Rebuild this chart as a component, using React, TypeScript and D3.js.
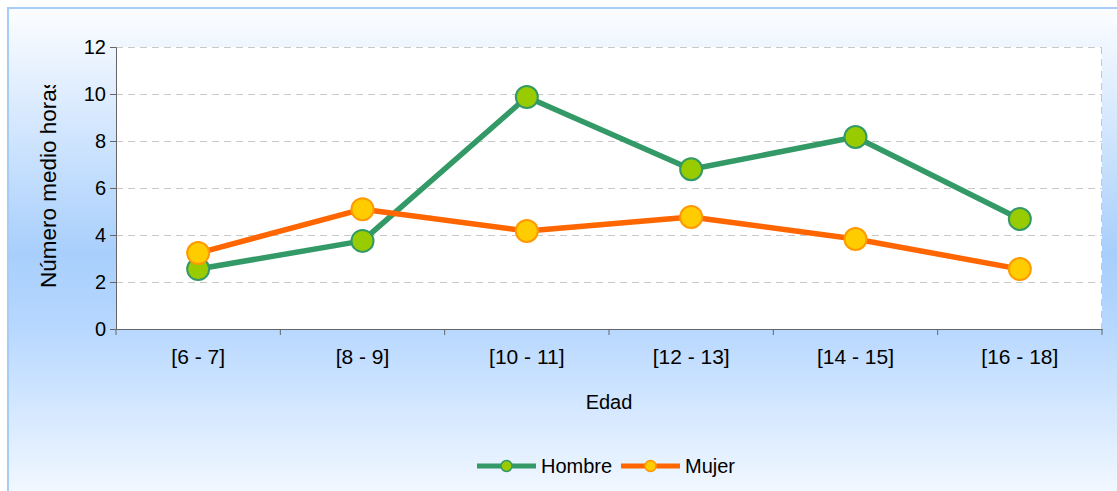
import React, { useEffect, useRef } from "react";
import * as d3 from "d3";

const categories = ["[6 - 7]", "[8 - 9]", "[10 - 11]", "[12 - 13]", "[14 - 15]", "[16 - 18]"];
const hombre = [2.55, 3.75, 9.87, 6.8, 8.17, 4.68];
const mujer = [3.23, 5.1, 4.17, 4.77, 3.83, 2.55];
const yTicks = [0, 2, 4, 6, 8, 10, 12];

const series = [
  { name: "Hombre", values: hombre, line: "#339966", fill: "#99cc00", stroke: "#339966" },
  { name: "Mujer", values: mujer, line: "#ff6600", fill: "#ffcc00", stroke: "#ff9900" },
];

export default function App() {
  const ref = useRef<SVGSVGElement>(null);

  useEffect(() => {
    const width = 1117;
    const height = 491;
    const margin = { top: 47, right: 15, bottom: 162, left: 116 };
    const font = "Arial, 'Liberation Sans', sans-serif";
    const svg = d3.select(ref.current);
    svg.selectAll("*").remove();

    const defs = svg.append("defs");
    const grad = defs
      .append("linearGradient")
      .attr("id", "bg")
      .attr("x1", 0).attr("y1", 0).attr("x2", 0).attr("y2", 1);
    grad.append("stop").attr("offset", "0%").attr("stop-color", "#fcfdff");
    grad.append("stop").attr("offset", "48%").attr("stop-color", "#a8cffc");
    grad.append("stop").attr("offset", "62%").attr("stop-color", "#b6d7ff");
    grad.append("stop").attr("offset", "100%").attr("stop-color", "#fbfdff");
    defs.append("clipPath").attr("id", "ylab")
      .append("rect").attr("x", 0).attr("y", 85).attr("width", 100).attr("height", 300);

    // frame
    svg.append("rect")
      .attr("x", 8).attr("y", 8)
      .attr("width", width + 20).attr("height", height + 20)
      .attr("fill", "url(#bg)")
      .attr("stroke", "#a6cdf5")
      .attr("stroke-width", 2);

    const x = d3.scaleBand().domain(categories).range([margin.left, width - margin.right]);
    const y = d3.scaleLinear().domain([0, 12]).range([height - margin.bottom, margin.top]);
    const x0 = margin.left, x1 = width - margin.right;
    const y0 = y(0), y1 = y(12);

    // plot area
    svg.append("rect")
      .attr("x", x0).attr("y", y1)
      .attr("width", x1 - x0).attr("height", y0 - y1)
      .attr("fill", "#ffffff");

    // gridlines
    svg.append("g")
      .selectAll("line")
      .data(yTicks.filter((t) => t > 0))
      .enter()
      .append("line")
      .attr("x1", x0).attr("x2", x1)
      .attr("y1", (d) => y(d) + 0.5).attr("y2", (d) => y(d) + 0.5)
      .attr("stroke", "#c8c8c8")
      .attr("stroke-dasharray", "7,5");
    svg.append("line")
      .attr("x1", x1 - 0.5).attr("x2", x1 - 0.5)
      .attr("y1", y1).attr("y2", y0)
      .attr("stroke", "#c8c8c8")
      .attr("stroke-dasharray", "7,5");

    // y axis
    const yAxis = svg.append("g")
      .attr("transform", `translate(${x0},0)`)
      .call(d3.axisLeft(y).tickValues(yTicks).tickSize(6).tickPadding(4));
    yAxis.select(".domain").attr("stroke", "#666666");
    yAxis.selectAll(".tick line").attr("stroke", "#666666");
    yAxis.selectAll("text")
      .attr("font-family", font)
      .attr("font-size", 20)
      .attr("fill", "#000");

    // x axis
    const xAxis = svg.append("g")
      .attr("transform", `translate(0,${y0})`)
      .call(d3.axisBottom(x).tickSize(0).tickPadding(20));
    xAxis.select(".domain").attr("stroke", "#666666");
    xAxis.selectAll("text")
      .attr("font-family", font)
      .attr("font-size", 21)
      .attr("fill", "#000");
    xAxis.append("g")
      .selectAll("line")
      .data(categories.map((c) => x(c) as number).concat([x1]))
      .enter()
      .append("line")
      .attr("x1", (d) => d).attr("x2", (d) => d)
      .attr("y1", 0).attr("y2", 6)
      .attr("stroke", "#666666");

    // lines and markers
    const line = d3.line<number>()
      .x((_, i) => (x(categories[i]) as number) + x.bandwidth() / 2)
      .y((d) => y(d));
    series.forEach((s) => {
      svg.append("path")
        .datum(s.values)
        .attr("fill", "none")
        .attr("stroke", s.line)
        .attr("stroke-width", 5.5)
        .attr("stroke-linejoin", "round")
        .attr("d", line);
    });
    series.forEach((s) => {
      svg.append("g")
        .selectAll("circle")
        .data(s.values)
        .enter()
        .append("circle")
        .attr("cx", (_, i) => (x(categories[i]) as number) + x.bandwidth() / 2)
        .attr("cy", (d) => y(d))
        .attr("r", 11)
        .attr("fill", s.fill)
        .attr("stroke", s.stroke)
        .attr("stroke-width", 2);
    });

    // axis titles
    svg.append("text")
      .attr("x", (x0 + x1) / 2)
      .attr("y", 409)
      .attr("text-anchor", "middle")
      .attr("font-family", font)
      .attr("font-size", 20)
      .text("Edad");
    svg.append("g").attr("clip-path", "url(#ylab)")
      .append("text")
      .attr("transform", "translate(56,288) rotate(-90)")
      .attr("text-anchor", "start")
      .attr("font-family", font)
      .attr("font-size", 22.5)
      .text("Número medio horas");

    // legend
    const legend = svg.append("g").attr("transform", "translate(477,466)");
    const offsets = [0, 144];
    series.forEach((s, i) => {
      const g = legend.append("g").attr("transform", `translate(${offsets[i]},0)`);
      g.append("line").attr("x1", 0).attr("x2", 59).attr("y1", 0).attr("y2", 0)
        .attr("stroke", s.line).attr("stroke-width", 5);
      g.append("circle").attr("cx", 29.5).attr("cy", 0).attr("r", 5.5)
        .attr("fill", s.fill).attr("stroke", s.stroke).attr("stroke-width", 1.5);
      g.append("text").attr("x", 64).attr("y", 7)
        .attr("font-family", font)
        .attr("font-size", 20)
        .text(s.name);
    });
  }, []);

  return (
    <svg
      ref={ref}
      width={1117}
      height={491}
      style={{ position: "absolute", left: 0, top: 0, display: "block" }}
    />
  );
}
